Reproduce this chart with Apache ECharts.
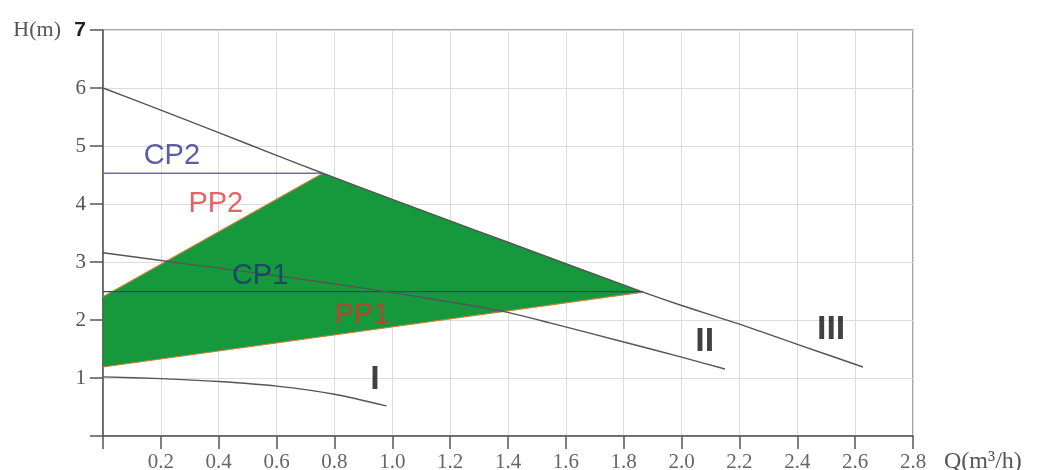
<!DOCTYPE html>
<html>
<head>
<meta charset="utf-8">
<script src="https://cdn.jsdelivr.net/npm/echarts@6/dist/echarts.min.js"></script>
<style>html,body{margin:0;padding:0;background:#fff;}#c{width:1041px;height:470px;}</style>
</head>
<body>
<div id="c"></div>
<script>
// ---- data ----
const xTickValues = [0, 0.2, 0.4, 0.6, 0.8, 1.0, 1.2, 1.4, 1.6, 1.8, 2.0, 2.2, 2.4, 2.6, 2.8];
const xTickLabels = ['', '0.2', '0.4', '0.6', '0.8', '1.0', '1.2', '1.4', '1.6', '1.8', '2.0', '2.2', '2.4', '2.6', '2.8'];
const yTickLabels = ['', '1', '2', '3', '4', '5', '6', '7'];

// pump curves [Q, H]
const curveI   = [[0, 1.02], [0.2, 0.99], [0.4, 0.94], [0.6, 0.86], [0.8, 0.72], [0.98, 0.52]];
const curveII  = [[0, 3.16], [0.3, 2.96], [0.636, 2.74], [0.9, 2.55], [1.165, 2.34], [1.39, 2.14], [1.545, 1.95], [1.8, 1.62], [2.0, 1.36], [2.15, 1.155]];
const curveIII = [[0, 6.0], [0.2, 5.62], [0.4, 5.23], [0.6, 4.84], [0.76, 4.53], [1.0, 4.08], [1.2, 3.71], [1.4, 3.34], [1.6, 2.97], [1.867, 2.48], [2.0, 2.25], [2.2, 1.93], [2.4, 1.58], [2.627, 1.19]];

// control lines
const cp2Line = [[0, 4.53], [0.76, 4.53]];
const cp1Line = [[0, 2.49], [1.867, 2.49]];
const pp2Line = [[0, 2.40], [0.76, 4.53]];
const pp1Line = [[0, 1.19], [1.867, 2.48]];

// operating area (green)
const areaTopQ = [0.76, 1.0, 1.2, 1.4, 1.6, 1.867];
const areaTopH = [4.53, 4.08, 3.71, 3.34, 2.97, 2.48];

// annotations
const annoNames = ['CP2', 'PP2', 'CP1', 'PP1', 'I', 'II', 'III'];
const annoQ = [0.238, 0.39, 0.543, 0.895, 0.94, 2.08, 2.517];
const annoH = [4.83, 4.0, 2.76, 2.09, 0.97, 1.62, 1.83];
const annoColors = ['#34348c', '#e03c3c', '#1c3674', '#d9352c', '#111111', '#111111', '#111111'];

// ---- build ----
const areaPoly = [[0, 1.19], [0, 2.40]];
for (let i = 0; i < areaTopQ.length; i++) areaPoly.push([areaTopQ[i], areaTopH[i]]);

const chart = echarts.init(document.getElementById('c'), null, {renderer: 'canvas'});
const serif = '"Liberation Serif", "DejaVu Serif", serif';
const sans = '"Liberation Sans", Arial, sans-serif';

function lineSeries(data, color, width, z) {
  return {type: 'line', data: data, symbol: 'none', smooth: 0.25, silent: true, z: z || 5,
    lineStyle: {color: color, width: width}};
}

chart.setOption({
  animation: false,
  grid: {left: 103, right: 128, top: 30, bottom: 34, outerBoundsMode: 'none', containLabel: false,
    show: true, borderColor: '#8a8a8a', borderWidth: 1.5, backgroundColor: 'transparent'},
  xAxis: {
    type: 'value', min: 0, max: 2.8, interval: 0.2,
    name: 'Q(m³/h)', nameLocation: 'end', nameGap: 31,
    nameTextStyle: {fontFamily: serif, fontSize: 24, color: '#555', verticalAlign: 'top', padding: [14, 0, 0, 0]},
    axisLine: {show: true, onZero: false, lineStyle: {color: '#555', width: 1.5}},
    axisTick: {show: true, length: 13, lineStyle: {color: '#555', width: 1.5}},
    axisLabel: {
      margin: 16, fontFamily: serif, fontSize: 21, color: '#666',
      formatter: function (v) {
        const i = xTickValues.findIndex(t => Math.abs(t - v) < 1e-6);
        return i >= 0 ? xTickLabels[i] : '';
      }
    },
    splitLine: {show: true, lineStyle: {color: '#dcdcdc', width: 1}}
  },
  yAxis: {
    type: 'value', min: 0, max: 7, interval: 1,
    name: 'H(m)', nameLocation: 'end', nameGap: 0,
    nameTextStyle: {fontFamily: serif, fontSize: 22, color: '#555', align: 'right', verticalAlign: 'middle', padding: [0, 42, 0, 0]},
    axisLine: {show: true, onZero: false, lineStyle: {color: '#555', width: 1.5}},
    axisTick: {show: true, length: 13, lineStyle: {color: '#555', width: 1.5}},
    axisLabel: {
      margin: 17, fontFamily: serif, fontSize: 21, color: '#555',
      formatter: function (v) {
        const s = yTickLabels[Math.round(v)] || '';
        return Math.round(v) === 7 ? '{b|' + s + '}' : s;
      },
      rich: {b: {fontFamily: sans, fontWeight: 'bold', fontSize: 21, color: '#222'}}
    },
    splitLine: {show: true, lineStyle: {color: '#dcdcdc', width: 1}}
  },
  series: [
    {
      type: 'custom', silent: true, z: 2,
      data: [0],
      renderItem: function (params, api) {
        const pts = areaPoly.map(p => api.coord(p));
        return {type: 'polygon', shape: {points: pts}, style: {fill: 'rgba(8,148,50,0.95)', stroke: null}};
      }
    },
    {type: 'line', data: pp2Line, symbol: 'none', silent: true, z: 4, lineStyle: {color: '#c8823c', width: 1.2}},
    {type: 'line', data: pp1Line, symbol: 'none', silent: true, z: 4, lineStyle: {color: '#c8823c', width: 1.2}},
    {type: 'line', data: cp2Line, symbol: 'none', silent: true, z: 4, lineStyle: {color: '#6e6cb4', width: 1.5}},
    {type: 'line', data: cp1Line, symbol: 'none', silent: true, z: 4, lineStyle: {color: '#2f3f9c', width: 1.3}},
    lineSeries(curveI, '#555', 1.4),
    lineSeries(curveII, '#555', 1.4),
    lineSeries(curveIII, '#555', 1.4),
    {
      type: 'scatter', silent: true, z: 10, symbolSize: 0,
      data: annoNames.map((n, i) => ({
        value: [annoQ[i], annoH[i]], name: n,
        label: {color: annoColors[i], fontSize: i < 4 ? 29 : 34, fontWeight: i < 4 ? 'normal' : 'bold'}
      })),
      label: {show: true, position: 'inside', formatter: '{b}', fontFamily: sans}
    }
  ]
});
</script>
</body>
</html>
